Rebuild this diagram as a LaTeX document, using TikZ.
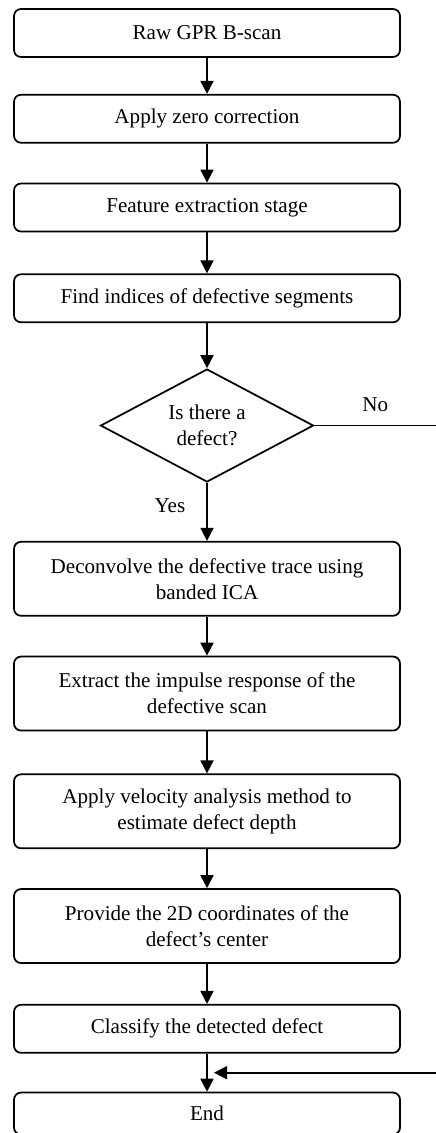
\documentclass[tikz,border=0pt]{standalone}
\usepackage{fontspec}
\setmainfont{Liberation Serif}
\usepackage{tikz}
\usetikzlibrary{calc}
\usetikzlibrary{positioning}
\usetikzlibrary{shapes.geometric}
\usetikzlibrary{arrows.meta}

\tikzset{
    procBox/.style={rectangle, rounded corners=4pt, minimum width=7.72cm, minimum height=0.96cm, draw=black, line width=1pt, align=center},
    twoLine/.style={minimum height=1.48cm},
    decisionBox/.style={diamond, aspect=1.9, minimum width=4.26cm, minimum height=2.26cm, draw=black, line width=1pt, align=center, inner sep=1pt},
    flowLine/.style={line width=1pt},
    >={Triangle[length=2.6mm, width=2.6mm]}
}

\begin{document}
\begin{tikzpicture}[font=\fontsize{12}{14.7}\selectfont]
    \useasboundingbox (0,0) rectangle (8.72,-22.66);
    \coordinate (rightEdge) at (8.72,0);

    \node [procBox] (rawScan) at (4.14,-0.66) {Raw GPR B-scan};
    \node [procBox, below=0.72cm of rawScan] (zeroCorr) {Apply zero correction};
    \node [procBox, below=0.78cm of zeroCorr] (featExtract) {Feature extraction stage};
    \node [procBox, below=0.82cm of featExtract] (findIdx) {Find indices of defective segments};
    \node [decisionBox, below=0.9cm of findIdx] (isDefect) {Is there a\\defect?};
    \node [procBox, twoLine, below=1.16cm of isDefect] (deconv) {Deconvolve the defective trace using\\banded ICA};
    \node [procBox, twoLine, below=0.78cm of deconv] (impulse) {Extract the impulse response of the\\defective scan};
    \node [procBox, twoLine, below=0.84cm of impulse] (velocity) {Apply velocity analysis method to\\estimate defect depth};
    \node [procBox, twoLine, below=0.78cm of velocity] (coords) {Provide the 2D coordinates of the\\defect's center};
    \node [procBox, below=0.8cm of coords] (classify) {Classify the detected defect};
    \node [procBox, minimum height=0.84cm, below=0.76cm of classify] (finish) {End};

    \coordinate (joinPt) at ($(classify.south)!0.5!(finish.north)$);

    \draw [->, flowLine] (rawScan) -- (zeroCorr);
    \draw [->, flowLine] (zeroCorr) -- (featExtract);
    \draw [->, flowLine] (featExtract) -- (findIdx);
    \draw [->, flowLine] (findIdx) -- (isDefect);
    \draw [->, flowLine] (isDefect) -- (deconv) node[pos=0.4, left=0.3cm] {Yes};
    \draw [flowLine] (isDefect.east) -- (isDefect.east -| rightEdge) node[midway, above=0.15cm] {No};
    \draw [->, flowLine] (deconv) -- (impulse);
    \draw [->, flowLine] (impulse) -- (velocity);
    \draw [->, flowLine] (velocity) -- (coords);
    \draw [->, flowLine] (coords) -- (classify);
    \draw [->, flowLine] (classify) -- (finish);
    \draw [->, flowLine] (joinPt -| rightEdge) -- ([xshift=4pt]joinPt);
\end{tikzpicture}
\end{document}
